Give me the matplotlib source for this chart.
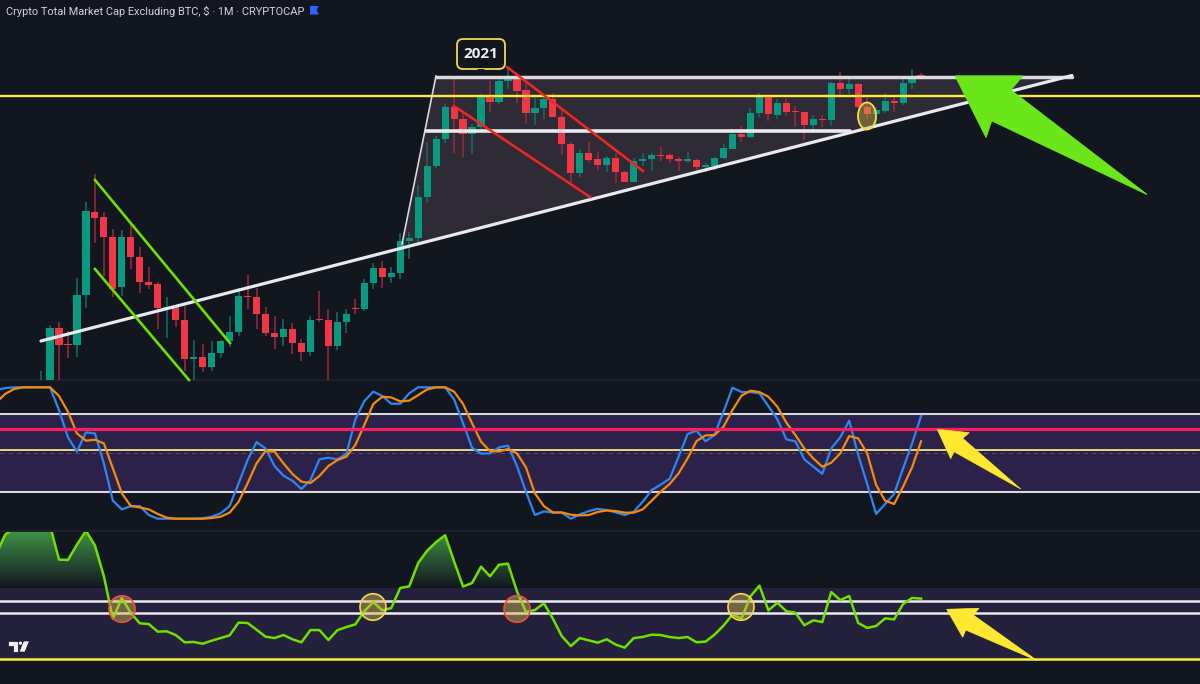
import matplotlib
matplotlib.use("Agg")
import matplotlib.pyplot as plt
import numpy as np
from matplotlib.patches import Polygon, Ellipse, FancyBboxPatch
from matplotlib.path import Path

W, H = 1200, 684
X0, DX = 50.0, 8.98   # pixel position of month 0, pixels per month

# ---- monthly candles, on a height scale ----
first_month = -1
opens = [-40,-10,51.7,36,35,84.7,168.3,162.7,143,92.7,143,123.3,98,95.7,71.3,73.7,60.3,20.7,23.3,13,27,39,48,84,83,66,47,42.7,51,37.3,27.7,60.7,60.3,34,58.3,72.3,71,97.3,112.3,103,106.7,139,142,182.7,213.7,240.7,273,261.3,246.3,252.7,283.7,277.7,298.7,301,290,266.7,271.7,281,263,236.3,206.7,227,221,214.7,221.7,208,198.3,219,220.7,225,224.7,221.3,219.3,220.3,213.3,214.3,221.7,231.3,246.3,242.7,266.7,283.3,265.3,276.7,269,267.7,254.7,261,259.7,296.7,290.7,296.3,273,266.3,269.3,279,277.3,296.7,304.7]
highs = [9,55,57.7,49,101.7,177.7,205.7,167.7,150.7,150,156.7,132.7,112.7,97.7,82.7,75,74,39.7,36,39,40,64.3,91.7,105.3,91.7,72.7,64,60.7,57,40.7,64,89,70.7,67.7,70.7,80.7,101,117.3,118.7,112.7,146.7,147.7,195,237.7,244,276,300.7,267.7,256,286,299,301.7,312.7,305,298.3,282.7,283.3,286.7,270,237.7,230.7,237.7,227.7,224.3,227.3,209.3,222.3,226.7,227.3,233.3,227.3,223.3,228.3,221.3,216.7,223.3,235.7,251.3,254,271.7,287.3,284,280.7,281.7,274,267.7,265,265.3,298,308,303.3,296.7,285,273.3,287.3,285,303.3,311,306.7]
lows = [-50,-15,-5,21.7,23.3,71.7,137.3,104,83.3,84,110.7,87.3,90.7,50.7,42.3,52.7,9,-5,8.3,9,21.7,33.3,44.3,70.7,50.7,44,31,34.3,26,18.7,24,57.7,-5,30,46.7,66,69.3,90.7,91.7,97.3,100.7,121.3,138,177.3,211.7,236.7,227.3,223.3,226,250,267.7,275.7,290.7,277.3,255.7,254.7,260.7,262.7,225,196.7,203.3,216.7,210,208.3,197.3,198,198,214,209.3,219.3,217.3,209.3,216.7,208.3,208.3,210,220.7,230.7,238,242,263.3,258.7,261.3,264,253.3,240,246.7,252.7,254.3,284,286,271.7,260.7,252.3,266.7,268,275,290.7,302]
closes = [-10,51.7,35.3,35.3,85,168.7,162,143,90.7,143,123.3,97.7,95,71.7,73.3,60,20.7,23.3,13,26.7,39,48,84.3,82.7,66,46.7,42.7,51,37,27.7,60,59.7,34,58.3,65.7,71.3,97.3,112.3,103,107,138.7,142,182.7,213.7,240.7,273,261,246.3,253,283.7,277.7,299.3,301,289,267,272,281,263,236,206.7,227,220.3,215,221.7,207.7,198.3,219,220.7,225.3,224,221.3,219.3,221,213,214.7,222.3,232,246.3,242.7,267,283.3,265.7,276.7,268.3,267.7,254.7,261,259.7,296.7,290.7,296.3,272.7,266.3,269.7,278.7,277.3,296.7,303.7,303.7]

# ---- stochastic RSI, from month -6 ----
first_osc = -6
stoch_k = [97.9,99.4,100,100,100,100,100,82.7,61.9,51,65.7,64.9,42.1,13.7,7.1,9.6,9.6,2.8,0,0,0,0,0,0.3,1.5,4.1,9.6,26.9,44.6,58.3,53.5,40.1,32.7,28.9,22.6,29.4,45.2,46.4,45.2,49.2,75.6,89.5,96.7,93.4,87.5,87.5,95.4,100,100,100,100,90.8,72.6,54,49.5,49.7,54.3,
           55.6,40.1,20.5,2.8,5.6,4.6,4.6,0,3.3,5.8,7.4,6.6,4.8,2.8,5.3,12.9,21.8,25.9,30.4,47.2,64.4,67,58.9,63.7,81.4,99.7,96.4,96.4,95.4,85.7,75.6,60.4,58.9,45.2,39.6,34.2,53.5,61.9,74.6,48.5,26.4,3.6,11.2,18.8,38.3,57.3,78.1]
stoch_d = [88.3,94.9,98.7,100,100,100,100,93.4,81.4,64.9,59.4,60.1,57.3,38.3,19.3,9.6,8.6,7.1,3.6,0.8,0,0,0,0,0.5,1.5,4.6,12.9,26.9,42.1,51.5,51,42.1,34,28.2,27.1,32.5,40.1,44.6,47.2,56.1,71.3,87.3,92.8,92.3,89.3,89.8,94.1,98.4,100,100,96.7,87.3,72.6,58.6,51.5,51.2,
           53,49.7,39.1,19.3,9.6,4.8,4.8,3,2.5,2.8,5.1,6.3,5.8,4.6,4.6,7.1,13.7,20.5,26.4,34.5,45.9,59.1,63.4,63.7,70,82.7,93.6,97.4,96.4,92.8,85.2,73.1,63.7,53.5,45.9,39.6,42.6,49.7,62.9,61.1,49.7,25.6,13.7,11.2,24.4,39.1,58.9]
stoch_levels_white = [80, 20]
stoch_level_yellow = 52
stoch_level_pink = 68
stoch_mid = 50

# ---- RSI, from month -6 ----
rsi = [88.8,100,103.8,105.7,106.6,106,105.3,86,85.8,94.4,102.3,94,76.6,52.7,64.4,55.9,50.1,49.7,45.4,45.6,43.5,39.4,39.6,38.6,40.3,41.8,43.3,50.5,50.3,46.5,42.6,41.8,43.5,41.1,39.4,46.3,46.3,40.7,46.2,48,49.5,56.9,62.1,57.4,58.7,70,70.9,84.1,91,95.9,99.7,85,70.8,72.8,82,76.6,83.1,
       83.7,68.1,56.5,57.6,61.4,52.7,42.8,37.3,41.8,40.5,39.2,41.1,38.1,36.4,41.8,42.4,43.7,43.5,42.4,41.8,42.4,39.4,39.8,43.7,48.8,55,52.7,65.3,71.3,57.4,61.7,56.9,56.1,49,51.8,50.8,67.7,63.2,65.5,50.3,47.5,48.6,52.9,52.3,61,64.4,64]
rsi_band = [30, 70]
rsi_white = [62.4, 55.7]

title = "Crypto Total Market Cap Excluding BTC, $ · 1M · CRYPTOCAP"
tag_label = "2021"

BG = "#12161f"
UP, DOWN = "#089981", "#f23645"
UP_W, DOWN_W = "#0f6f62", "#9c2a3c"
WHITE = "#e9e9ee"
YELLOW = "#ffeb3b"
LIME = "#6fe000"

fig = plt.figure(figsize=(W/100, H/100), dpi=100, facecolor=BG)

def pane(top, bottom, z):
    a = fig.add_axes([0, 1-bottom/H, 1, (bottom-top)/H], zorder=z)
    a.patch.set_alpha(0)
    a.set_xlim((0-X0)/DX, (W-X0)/DX)
    a.axis("off")
    return a

# pixel-space drawing layers
back = fig.add_axes([0, 0, 1, 1], zorder=0); back.set_xlim(0, W); back.set_ylim(H, 0); back.axis("off")
ax = pane(0, 380, 1); ax.set_ylim(0, 380)
st = pane(380.5, 530, 1); st.set_ylim((518.7-530)/1.314, (518.7-380.5)/1.314)
rs = pane(532, 684, 1); rs.set_ylim(30-25/1.775, 30+127/1.775)
top = fig.add_axes([0, 0, 1, 1], zorder=3); top.set_xlim(0, W); top.set_ylim(H, 0); top.axis("off"); top.patch.set_alpha(0)

# pane separators
for y in (380, 531):
    back.plot([0, W], [y, y], color="#1d212c", lw=1.4)

# ---- main pane: drawings under candles ----
back.add_patch(Polygon([(436, 76), (1072, 76), (402, 248)], fc="#2f2b36", ec="none", zorder=1))

months = np.arange(first_month, first_month+len(opens))
o, h, l, c = map(np.array, (opens, highs, lows, closes))
up = c >= o
ax.vlines(months[up], l[up], h[up], color=UP_W, lw=1.1, zorder=2)
ax.vlines(months[~up], l[~up], h[~up], color=DOWN_W, lw=1.1, zorder=2)
ax.bar(months[up], (c-o)[up], bottom=o[up], width=0.8, color=UP, lw=0, zorder=3)
ax.bar(months[~up], (c-o)[~up], bottom=o[~up], width=0.8, color=DOWN, lw=0, zorder=3)

top.plot([0, W], [96, 96], color=YELLOW, lw=1.7, zorder=2)
top.plot([436, 1072], [76.5, 76.5], color="#d9d9de", lw=2.5, zorder=2, solid_capstyle="round")
top.plot([436, 402], [76, 244], color="#d9d9de", lw=1.2, zorder=2)
top.plot([426, 850], [131, 131], color=WHITE, lw=2.6, zorder=2, solid_capstyle="round")
top.plot([41, 1072], [341, 75.5], color=WHITE, lw=2.3, zorder=2, solid_capstyle="round")
top.plot([95, 230], [180, 343], color=LIME, lw=1.9, zorder=2)
top.plot([95, 189], [269, 380], color=LIME, lw=1.9, zorder=2)
top.plot([507, 643], [67, 171], color="#f5261f", lw=1.8, zorder=2)
top.plot([454, 590], [106, 197], color="#f5261f", lw=1.8, zorder=2)
top.add_patch(Ellipse((867, 116), 18, 27, fc=(0.85, 0.75, 0.25, 0.38), ec="#f4e04a", lw=1.3, zorder=3))

# 2021 tag
top.add_patch(FancyBboxPatch((460, 42), 42, 24, boxstyle="round,pad=3,rounding_size=6",
                             fc=BG, ec="#f0dc4a", lw=1.3, zorder=4))
top.add_patch(Polygon([(477, 69), (481, 72), (485, 69)], fc=BG, ec="none", zorder=5))
top.text(481, 54.5, tag_label, color="#f0f0f3", fontsize=11, fontweight="bold",
         family="Open Sans", ha="center", va="center", zorder=6)

# green arrow
top.add_patch(Polygon([(955.3, 76), (1022.7, 76), (1010.7, 90), (1146.7, 194.3),
                       (991.7, 120.7), (986, 137.3)], fc="#6ae61a", ec="#6ae61a", lw=0.8,
                      joinstyle="round", zorder=7))

# title + flag
top.text(6, 11, title, color="#d1d4dc", fontsize=7.9, family="Roboto", ha="left", va="center")
top.add_patch(Polygon([(310, 6), (319, 6), (316.5, 10), (319, 14.5), (310, 14.5)], fc="#2962ff", ec="none"))

# ---- stochastic pane ----
osc = np.arange(first_osc, first_osc+len(stoch_k))
st.axhspan(stoch_levels_white[1], stoch_levels_white[0], color="#2c2249", lw=0, zorder=0)
st.axhline(stoch_mid, color="#5a5270", lw=0.6, ls=(0, (5, 5)), zorder=1)
for v in stoch_levels_white:
    st.axhline(v, color="#d6d6dc", lw=1.5, zorder=1)
st.axhline(stoch_level_yellow, color="#f2e88a", lw=1.3, zorder=1)
st.plot(osc, stoch_k, color="#2f86f0", lw=1.6, zorder=3)
st.plot(osc, stoch_d, color="#f58a0b", lw=1.6, zorder=4)
st.axhline(stoch_level_pink, color="#f5215f", lw=2.3, zorder=5)
top.add_patch(Polygon([(937.3, 429.3), (969.3, 432.7), (962.7, 438.3), (1020.7, 489),
                       (954, 451.7), (950.7, 458.7)], fc="#ffe930", ec="#ffe930", lw=0.5, zorder=7))

# ---- RSI pane ----
rsi_a = np.array(rsi)
rs.axhspan(rsi_band[0], rsi_band[1], color="#24213c", lw=0, zorder=0)
grad = np.zeros((256, 2, 4))
grad[..., :3] = (0.30, 0.70, 0.32)
grad[..., 3] = np.repeat(np.linspace(0.78, 0.0, 256)[:, None], 2, axis=1)
lims = rs.get_xlim(), rs.get_ylim()
im = rs.imshow(grad, extent=[lims[0][0], lims[0][1], rsi_band[1], lims[1][1]], aspect="auto",
               origin="upper", zorder=1, interpolation="bilinear")
region = rs.fill_between(osc, rsi_a, rsi_band[1], where=rsi_a > rsi_band[1], interpolate=True,
                         facecolor="none", edgecolor="none")
im.set_clip_path(Path.make_compound_path(*region.get_paths()), transform=rs.transData)
rs.set_xlim(*lims[0]); rs.set_ylim(*lims[1])
for v in rsi_white:
    rs.axhline(v, color=WHITE, lw=1.8, zorder=2)
rs.axhline(rsi_band[0], color=YELLOW, lw=1.8, zorder=2)
rs.plot(osc, rsi_a, color=LIME, lw=1.8, zorder=3)

for (cx, cy, ec) in [(122, 609, "#f0503c"), (373, 607, "#f5d94a"), (517, 609, "#f0503c"), (741, 607, "#f5d94a")]:
    top.add_patch(Ellipse((cx, cy), 26, 26.5, fc=(0.85, 0.72, 0.30, 0.45), ec=ec, lw=1.2, zorder=4))
top.add_patch(Polygon([(946.7, 609.3), (979, 608.3), (973.3, 615), (1037.3, 660.7),
                       (965.7, 630), (962.7, 637.3)], fc="#ffe930", ec="#ffe930", lw=0.5, zorder=7))

# TV logo
logo_kw = dict(fc="#f2f2f2", ec="#111318", lw=0.5, zorder=6)
top.add_patch(Polygon([(8, 641), (18, 641), (18, 652), (12.5, 652), (12.5, 645.5), (8, 645.5)], **logo_kw))
top.add_patch(Ellipse((20.5, 643.2), 4.2, 4.2, **logo_kw))
top.add_patch(Polygon([(23.5, 641), (29.5, 641), (25, 652), (19, 652)], **logo_kw))

fig.savefig("out.png", dpi=100, facecolor=BG)
